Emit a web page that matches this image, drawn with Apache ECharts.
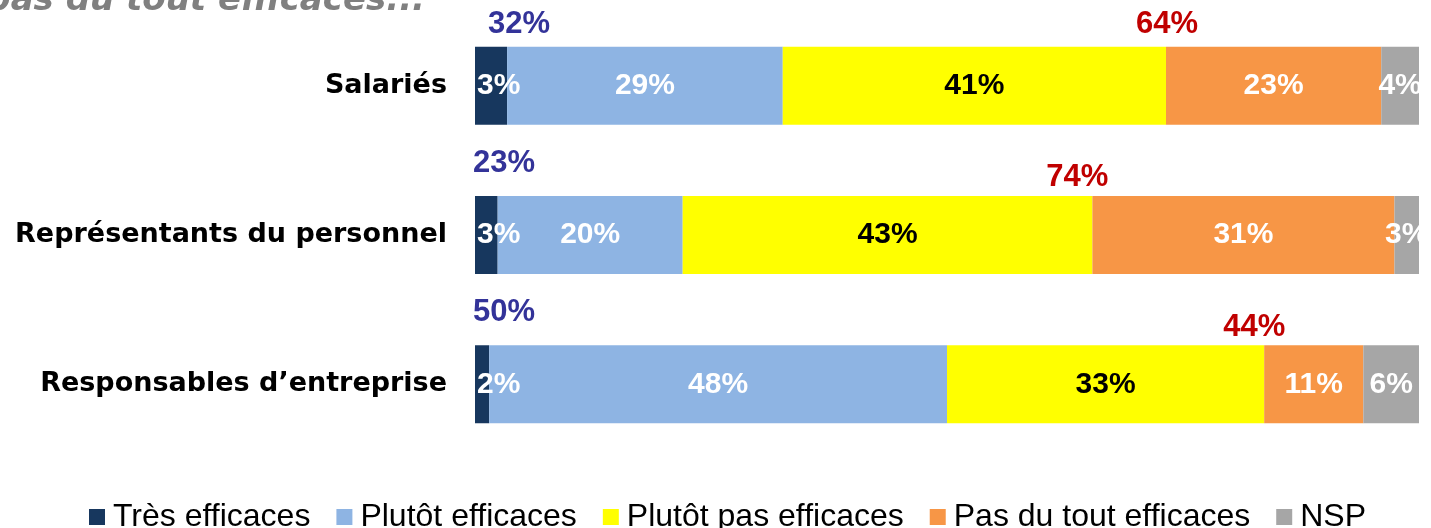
<!DOCTYPE html>
<html>
<head>
<meta charset="utf-8">
<script src="https://cdn.jsdelivr.net/npm/echarts@6/dist/echarts.min.js"></script>
<style>
  html, body { margin: 0; padding: 0; background: #fff; }
  #chart { width: 1431px; height: 528px; }
</style>
</head>
<body>
<div id="chart"></div>
<script>
// catégories (de haut en bas)
const categories = ['Salariés', 'Représentants du personnel', 'Responsables d\u2019entreprise']
const seriesNames = ['Très efficaces', 'Plutôt efficaces', 'Plutôt pas efficaces', 'Pas du tout efficaces', 'NSP']

// largeurs (en %)
const tresEfficaces = [3.4, 2.4, 1.5]
const plutotEfficaces = [29.2, 19.6, 48.5]
const plutotPas = [40.6, 43.4, 33.6]
const pasDuTout = [22.8, 32.0, 10.5]
const nsp = [4.0, 2.6, 5.9]

// libellés affichés dans les barres
const tresLabels = ['3%', '3%', '2%']
const plutotLabels = ['29%', '20%', '48%']
const plutotPasLabels = ['41%', '43%', '33%']
const pasDuToutLabels = ['23%', '31%', '11%']
const nspLabels = ['4%', '3%', '6%']

// totaux au-dessus des barres
const totalEfficaces = [32, 23, 50]
const totalPasEfficaces = [64, 74, 44]

const colors = ['#17375E', '#8EB4E3', '#FFFF00', '#F79646', '#A6A6A6']
const labelColors = ['#fff', '#fff', '#000', '#fff', '#fff']

// petits décalages des totaux (px)
const blueShift = [[13, -61], [-2, -72], [-2, -72]]
const redShift = [[1, -61], [-15, -58], [-10, -57]]

const chart = echarts.init(document.getElementById('chart'))

const values = [tresEfficaces, plutotEfficaces, plutotPas, pasDuTout, nsp]
const labels = [tresLabels, plutotLabels, plutotPasLabels, pasDuToutLabels, nspLabels]

const inBarFont = {
  fontFamily: '"Liberation Sans", Arial, sans-serif',
  fontWeight: 'bold',
  fontSize: 30
}

const barSeries = values.map((vals, i) => {
  return {
    name: seriesNames[i],
    type: 'bar',
    stack: 'total',
    barWidth: 78,
    itemStyle: { color: colors[i] },
    label: Object.assign({
      show: true,
      position: i === 0 ? 'insideLeft' : 'inside',
      distance: 2,
      color: labelColors[i],
      formatter: (p) => labels[i][p.dataIndex]
    }, inBarFont),
    data: vals
  }
})

const totalFont = {
  fontFamily: '"Liberation Sans", Arial, sans-serif',
  fontWeight: 'bold',
  fontSize: 31
}

// total "efficaces" (bleu) au début de la barre
const blueSeries = {
  type: 'scatter',
  symbolSize: 0,
  silent: true,
  itemStyle: { opacity: 1 },
  data: totalEfficaces.map((v, i) => ({
    value: [0, i],
    label: { offset: blueShift[i] }
  })),
  label: Object.assign({
    show: true,
    position: 'inside',
    align: 'left',
    color: '#333399',
    formatter: (p) => totalEfficaces[p.dataIndex] + '%'
  }, totalFont)
}

// total "pas efficaces" (rouge) sur la limite jaune/orange
const redSeries = {
  type: 'scatter',
  symbolSize: 0,
  silent: true,
  itemStyle: { opacity: 1 },
  data: totalPasEfficaces.map((v, i) => ({
    value: [tresEfficaces[i] + plutotEfficaces[i] + plutotPas[i], i],
    label: { offset: redShift[i] }
  })),
  label: Object.assign({
    show: true,
    position: 'inside',
    align: 'center',
    color: '#C00000',
    formatter: (p) => totalPasEfficaces[p.dataIndex] + '%'
  }, totalFont)
}

const option = {
  animation: false,
  backgroundColor: '#fff',
  graphic: [{
    type: 'text',
    style: {
      text: 'pas du tout efficaces...',
      x: 425,
      y: 18,
      align: 'right',
      verticalAlign: 'bottom',
      fill: '#808080',
      font: 'italic bold 34px "DejaVu Sans", sans-serif'
    }
  }],
  legend: {
    bottom: -10,
    left: 84,
    itemWidth: 16,
    itemHeight: 16,
    itemGap: 26,
    icon: 'rect',
    data: seriesNames,
    textStyle: {
      fontFamily: '"Liberation Sans", Arial, sans-serif',
      fontSize: 32,
      color: '#000',
      padding: [0, 0, 0, 3]
    }
  },
  grid: {
    left: 475,
    right: 12,
    top: 11,
    bottom: 69,
    outerBoundsMode: 'none'
  },
  xAxis: {
    type: 'value',
    min: 0,
    max: 100,
    show: false
  },
  yAxis: {
    type: 'category',
    inverse: true,
    data: categories,
    axisLine: { show: false },
    axisTick: { show: false },
    axisLabel: {
      margin: 28,
      color: '#000',
      fontFamily: '"DejaVu Sans", sans-serif',
      fontWeight: 'bold',
      fontSize: 27
    }
  },
  series: barSeries.concat([blueSeries, redSeries])
}

chart.setOption(option)
</script>
</body>
</html>
